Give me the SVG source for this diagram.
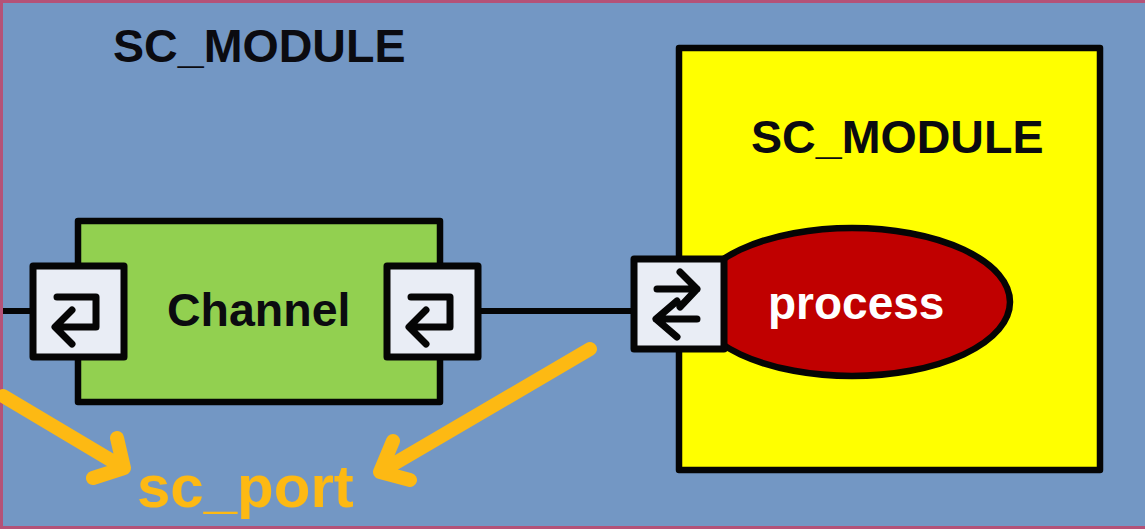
<svg xmlns="http://www.w3.org/2000/svg" width="1145" height="529" viewBox="0 0 1145 529">
<defs>
<style>
.t{font-family:"Liberation Sans",Arial,sans-serif;font-weight:700;font-size:46.6px;fill:#0b0b10}
.box{stroke:#050505;stroke-width:6.5;stroke-linejoin:round}
.port{fill:#e9edf5;stroke:#050505;stroke-width:7;stroke-linejoin:round}
.glyph{fill:none;stroke:#050505;stroke-width:7;stroke-linecap:round;stroke-linejoin:round}
.wire{fill:none;stroke:#050505;stroke-width:6}
.orange{fill:none;stroke:#fdb913;stroke-width:14;stroke-linecap:round;stroke-linejoin:round}
</style>
<g id="portGlyph"><path class="glyph" d="M57 297H96V327H56M72 310L55 327L72 344"/></g>
</defs>
<rect width="1145" height="529" fill="#b45278"/>
<rect x="3" y="3" width="1142" height="523" fill="#7397c4"/>
<g id="connectors">
<path class="wire" d="M3 311H33"/>
<path class="wire" d="M478 311H634"/>
<path class="orange" d="M3 396L124 468M93 478L124 468L117 438"/>
<path class="orange" d="M590 349L380 472M410 480L380 472L393 441"/>
</g>
<g id="module-outer"><text class="t" x="113" y="62">SC_MODULE</text></g>
<g id="module-inner">
<rect class="box" x="679" y="48" width="421" height="422" fill="#ffff00"/>
<text class="t" x="751" y="153">SC_MODULE</text>
</g>
<g id="process">
<ellipse class="box" cx="852" cy="302" rx="158" ry="74" fill="#c00000"/>
<text class="t" x="768" y="319" style="fill:#fff;font-size:46px">process</text>
</g>
<g id="channel">
<rect class="box" x="78" y="221" width="362" height="181" fill="#92d050"/>
<text class="t" x="167" y="326" style="font-size:46.5px">Channel</text>
</g>
<g id="port-left">
<rect class="port" x="33" y="266" width="91" height="91"/>
<use href="#portGlyph"/>
</g>
<g id="port-middle">
<rect class="port" x="387" y="266" width="91" height="91"/>
<use href="#portGlyph" x="354"/>
</g>
<g id="port-right">
<rect class="port" x="634" y="259" width="90" height="90"/>
<path class="glyph" d="M657 289H697M680 272L697 289L680 307M656 319H697M677 301L656 319L677 337"/>
</g>
<g id="label-sc-port"><text class="t" x="137" y="507" style="fill:#fdb913;font-size:60px">sc_port</text></g>
</svg>
